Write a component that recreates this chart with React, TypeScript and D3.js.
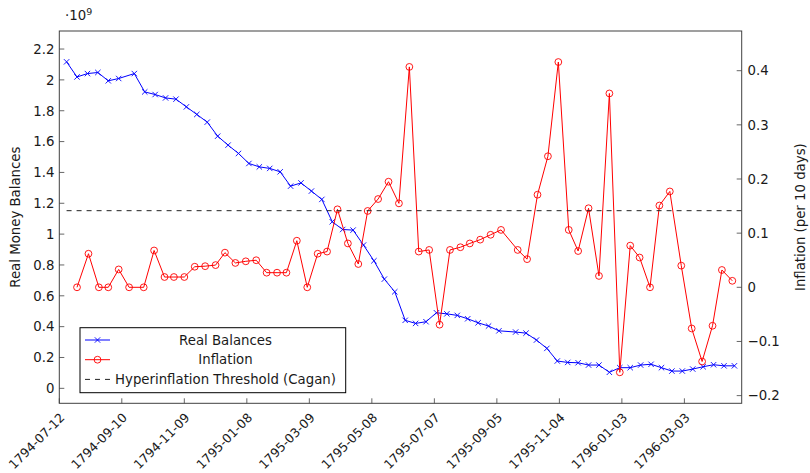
import * as d3 from "d3";

const W = 810;
const H = 473;
const M = { top: 31, right: 68.3, bottom: 69.7, left: 59.3 };
const FONT = "DejaVu Sans, sans-serif";
const FS = 13.3;
const FS_DATE = 12.5;

// x range: 7 days of padding either side of the data
const X_MIN = "1794-07-12";
const X_MAX = "1796-04-27";
const Y_LEFT_DOMAIN: [number, number] = [-0.097, 2.317];
const Y_RIGHT_DOMAIN: [number, number] = [-0.2142, 0.4733];

// real money balances, one value per decade (x 10^9)
const balanceDates = [
  "1794-07-19", "1794-07-29", "1794-08-08", "1794-08-18", "1794-08-28", "1794-09-07", "1794-09-22", "1794-10-02",
  "1794-10-12", "1794-10-22", "1794-11-01", "1794-11-11", "1794-11-21", "1794-12-01", "1794-12-11", "1794-12-21",
  "1794-12-31", "1795-01-10", "1795-01-20", "1795-01-30", "1795-02-09", "1795-02-19", "1795-03-01", "1795-03-11",
  "1795-03-21", "1795-03-31", "1795-04-10", "1795-04-20", "1795-04-30", "1795-05-10", "1795-05-20", "1795-05-30",
  "1795-06-09", "1795-06-19", "1795-06-29", "1795-07-09", "1795-07-19", "1795-07-29", "1795-08-08", "1795-08-18",
  "1795-08-28", "1795-09-07", "1795-09-23", "1795-10-03", "1795-10-13", "1795-10-23", "1795-11-02", "1795-11-12",
  "1795-11-22", "1795-12-02", "1795-12-12", "1795-12-22", "1796-01-01", "1796-01-11", "1796-01-21", "1796-01-31",
  "1796-02-10", "1796-02-20", "1796-03-01", "1796-03-11", "1796-03-21", "1796-03-31", "1796-04-10", "1796-04-20",
];
const balanceValues = [
  2.117, 2.019, 2.041, 2.048, 1.994, 2.009, 2.041, 1.922,
  1.905, 1.883, 1.875, 1.825, 1.776, 1.726, 1.635, 1.577,
  1.523, 1.458, 1.436, 1.426, 1.404, 1.311, 1.332, 1.279,
  1.225, 1.08, 1.03, 1.026, 0.929, 0.827, 0.708, 0.626,
  0.441, 0.421, 0.432, 0.49, 0.483, 0.473, 0.451, 0.425,
  0.404, 0.373, 0.365, 0.358, 0.313, 0.259, 0.177, 0.168,
  0.166, 0.151, 0.151, 0.104, 0.134, 0.134, 0.151, 0.156,
  0.134, 0.112, 0.112, 0.125, 0.14, 0.153, 0.146, 0.146,
];

// inflation per 10 days (right axis)
const inflationDates = [
  "1794-07-29", "1794-08-09", "1794-08-19", "1794-08-28", "1794-09-07", "1794-09-17", "1794-10-01", "1794-10-11",
  "1794-10-21", "1794-10-30", "1794-11-09", "1794-11-19", "1794-11-29", "1794-12-09", "1794-12-18", "1794-12-28",
  "1795-01-07", "1795-01-17", "1795-01-27", "1795-02-06", "1795-02-15", "1795-02-25", "1795-03-07", "1795-03-17",
  "1795-03-26", "1795-04-05", "1795-04-15", "1795-04-25", "1795-05-04", "1795-05-14", "1795-05-24", "1795-06-03",
  "1795-06-13", "1795-06-22", "1795-07-02", "1795-07-12", "1795-07-22", "1795-08-01", "1795-08-10", "1795-08-20",
  "1795-08-30", "1795-09-09", "1795-09-25", "1795-10-04", "1795-10-14", "1795-10-24", "1795-11-03", "1795-11-13",
  "1795-11-22", "1795-12-02", "1795-12-12", "1795-12-22", "1796-01-01", "1796-01-11", "1796-01-20", "1796-01-30",
  "1796-02-08", "1796-02-18", "1796-02-29", "1796-03-10", "1796-03-20", "1796-03-30", "1796-04-08", "1796-04-18",
];
const inflationValues = [
  0, 0.062, 0, 0, 0.033, 0, 0, 0.068,
  0.019, 0.019, 0.019, 0.038, 0.039, 0.041, 0.064, 0.045,
  0.048, 0.05, 0.027, 0.027, 0.027, 0.086, 0, 0.062,
  0.066, 0.144, 0.081, 0.043, 0.141, 0.163, 0.195, 0.155,
  0.407, 0.066, 0.069, -0.069, 0.069, 0.074, 0.081, 0.088,
  0.097, 0.106, 0.069, 0.052, 0.171, 0.242, 0.416, 0.106,
  0.067, 0.146, 0.021, 0.358, -0.157, 0.077, 0.055, 0,
  0.151, 0.177, 0.04, -0.076, -0.137, -0.071, 0.032, 0.012,
];

// Cagan threshold expressed per 10 days
const CAGAN_THRESHOLD = 0.1415;

const xTickDates = [
  "1794-07-12", "1794-09-10", "1794-11-09", "1795-01-08", "1795-03-09", "1795-05-08",
  "1795-07-07", "1795-09-05", "1795-11-04", "1796-01-03", "1796-03-03",
];
const leftTicks = [0, 0.2, 0.4, 0.6, 0.8, 1, 1.2, 1.4, 1.6, 1.8, 2, 2.2];
const rightTicks = [-0.2, -0.1, 0, 0.1, 0.2, 0.3, 0.4];

const legendItems = ["Real Balances", "Inflation", "Hyperinflation Threshold (Cagan)"];

const parse = d3.utcParse("%Y-%m-%d");
const BLUE = "#0000ff";
const RED = "#ff0000";
const AXIS = "#404040";
const TEXT = "#1a1a1a";

type Pt = { t: Date; v: number };

function XMark({ cx, cy }: { cx: number; cy: number }) {
  const s = 2.7;
  return (
    <path
      d={`M${cx - s},${cy - s}L${cx + s},${cy + s}M${cx - s},${cy + s}L${cx + s},${cy - s}`}
      stroke={BLUE}
      strokeWidth={0.9}
    />
  );
}

function OMark({ cx, cy }: { cx: number; cy: number }) {
  return <circle cx={cx} cy={cy} r={3.4} fill="none" stroke={RED} strokeWidth={0.9} />;
}

export default function App() {
  const x = d3.scaleUtc()
    .domain([parse(X_MIN)!, parse(X_MAX)!])
    .range([M.left, W - M.right]);
  const yL = d3.scaleLinear().domain(Y_LEFT_DOMAIN).range([H - M.bottom, M.top]);
  const yR = d3.scaleLinear().domain(Y_RIGHT_DOMAIN).range([H - M.bottom, M.top]);

  const balances: Pt[] = balanceDates.map((d, i) => ({ t: parse(d)!, v: balanceValues[i] }));
  const inflation: Pt[] = inflationDates.map((d, i) => ({ t: parse(d)!, v: inflationValues[i] }));

  const lineL = d3.line<Pt>().x(d => x(d.t)).y(d => yL(d.v));
  const lineR = d3.line<Pt>().x(d => x(d.t)).y(d => yR(d.v));

  const fmt = d3.format("~g");
  const x0 = M.left;
  const x1 = W - M.right;
  const y0 = H - M.bottom;
  const y1 = M.top;
  const tickLen = 5;

  const thrX0 = x(parse(balanceDates[0])!);
  const thrY = yR(CAGAN_THRESHOLD);

  // legend box
  const lg = { x: 80, y: 327.7, w: 265.7, h: 65, rowH: 19.7, sample: [85, 110], textX: 225.5 };

  return (
    <svg
      width={W}
      height={H}
      style={{ position: "absolute", left: 0, top: 0, background: "#fff" }}
      fontFamily={FONT}
      fontSize={FS}
    >
      <rect width={W} height={H} fill="#fff" />

      {/* ticks, drawn inward */}
      {leftTicks.map(t => (
        <line key={`lt${t}`} x1={x0} x2={x0 + tickLen} y1={yL(t)} y2={yL(t)} stroke={AXIS} strokeWidth={0.8} />
      ))}
      {rightTicks.map(t => (
        <line key={`rt${t}`} x1={x1 - tickLen} x2={x1} y1={yR(t)} y2={yR(t)} stroke={AXIS} strokeWidth={0.8} />
      ))}
      {xTickDates.map(d => (
        <line key={`xt${d}`} x1={x(parse(d)!)} x2={x(parse(d)!)} y1={y0} y2={y0 - tickLen} stroke={AXIS} strokeWidth={0.8} />
      ))}

      {/* series */}
      <path d={lineL(balances) ?? ""} fill="none" stroke={BLUE} strokeWidth={1} />
      {balances.map((d, i) => <XMark key={`b${i}`} cx={x(d.t)} cy={yL(d.v)} />)}

      <path d={lineR(inflation) ?? ""} fill="none" stroke={RED} strokeWidth={1} />
      {inflation.map((d, i) => <OMark key={`i${i}`} cx={x(d.t)} cy={yR(d.v)} />)}

      <line x1={thrX0} x2={x1} y1={thrY} y2={thrY} stroke="#222" strokeWidth={1} strokeDasharray="5,5" />

      {/* frame */}
      <rect x={x0} y={y1} width={x1 - x0} height={y0 - y1} fill="none" stroke={AXIS} strokeWidth={1} />

      {/* left tick labels */}
      {leftTicks.map(t => (
        <text key={`ll${t}`} x={54.5} y={yL(t)} dy="0.36em" textAnchor="end" fill={TEXT}>{fmt(t)}</text>
      ))}
      <text x={65} y={20} fill={TEXT}>
        ·10<tspan fontSize={9.5} dy={-5.5}>9</tspan>
      </text>

      {/* right tick labels */}
      {rightTicks.map(t => (
        <text key={`rl${t}`} x={747.5} y={yR(t)} dy="0.36em" textAnchor="start" fill={TEXT}>{fmt(t)}</text>
      ))}

      {/* x tick labels, rotated */}
      {xTickDates.map(d => {
        const tx = x(parse(d)!) + 3;
        const ty = y0 + 12;
        return (
          <text
            key={`xl${d}`}
            x={tx}
            y={ty}
            dy="0.36em"
            fontSize={FS_DATE}
            textAnchor="end"
            transform={`rotate(-45 ${tx} ${ty})`}
            fill={TEXT}
          >
            {d}
          </text>
        );
      })}

      {/* axis labels */}
      <text transform={`translate(19.5 ${(y0 + y1) / 2}) rotate(-90)`} textAnchor="middle" fill={TEXT}>
        Real Money Balances
      </text>
      <text transform={`translate(804.5 ${(y0 + y1) / 2}) rotate(-90)`} textAnchor="middle" fill={TEXT}>
        Inflation (per 10 days)
      </text>

      {/* legend */}
      <rect x={lg.x} y={lg.y} width={lg.w} height={lg.h} fill="#fff" stroke="#000" strokeWidth={1} />
      {legendItems.map((name, i) => {
        const cy = lg.y + 12.3 + i * lg.rowH;
        const mid = (lg.sample[0] + lg.sample[1]) / 2;
        return (
          <g key={name}>
            {i === 0 && (
              <>
                <line x1={lg.sample[0]} x2={lg.sample[1]} y1={cy} y2={cy} stroke={BLUE} strokeWidth={1} />
                <XMark cx={mid} cy={cy} />
              </>
            )}
            {i === 1 && (
              <>
                <line x1={lg.sample[0]} x2={lg.sample[1]} y1={cy} y2={cy} stroke={RED} strokeWidth={1} />
                <OMark cx={mid} cy={cy} />
              </>
            )}
            {i === 2 && (
              <line x1={lg.sample[0]} x2={lg.sample[1]} y1={cy} y2={cy} stroke="#222" strokeWidth={1} strokeDasharray="5,5" />
            )}
            <text x={lg.textX} y={cy} dy="0.36em" textAnchor="middle" fill={TEXT}>{name}</text>
          </g>
        );
      })}
    </svg>
  );
}
